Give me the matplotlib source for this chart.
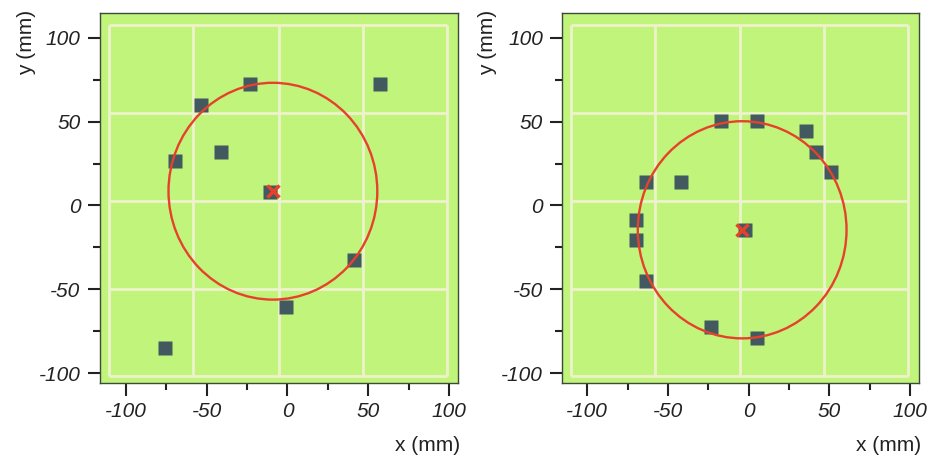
import numpy as np
import matplotlib.pyplot as plt
from matplotlib.patches import Circle
from matplotlib.ticker import MultipleLocator

# measured points (mm), left and right panels
x_left = [-23.3, -53.7, 57.0, -41.4, -69.8, -10.9, 41.4, -1.2, -75.7]
y_left = [72.3, 59.9, 72.3, 32.1, 26.2, 8.0, -32.7, -60.5, -85.1]
center_left = (-9.0, 8.5)
radius_left = 64.6

x_right = [-16.9, 5.2, 35.5, 41.7, 51.2, -63.6, -41.7, -69.8, -69.8, -63.4, -23.1, 5.2, -2.1]
y_right = [50.6, 50.6, 44.4, 32.1, 19.8, 13.9, 13.9, -8.5, -20.4, -44.8, -72.6, -79.0, -14.5]
center_right = (-4.0, -14.5)
radius_right = 64.7

ticks = [-100, -50, 0, 50, 100]

# grid of the underlying plot image (offset from the axis ticks)
grid_x = [-110.3, -58.3, -5.5, 47.0, 98.8]
grid_y = [107.6, 55.0, 2.8, -49.8, -101.8]

green = '#c1f47b'
gridc = '#eef2cc'
markc = '#425a5f'
red = '#e6412c'
framec = '#3d4a3a'

plt.rcParams['font.family'] = ['Liberation Sans', 'DejaVu Sans']
plt.rcParams['axes.unicode_minus'] = False

fig = plt.figure(figsize=(9.45, 4.57), dpi=100)
ax1 = fig.add_axes([0.1058, 0.1619, 0.3788, 0.8097])
ax2 = fig.add_axes([0.5950, 0.1619, 0.3778, 0.8097])

panels = [
    (ax1, x_left, y_left, center_left, radius_left, (-116, 105.5), -0.204),
    (ax2, x_right, y_right, center_right, radius_right, (-115.5, 105.8), -0.208),
]

for ax, xs, ys, c, r, xlim, ylab_x in panels:
    ax.set_facecolor(green)
    ax.vlines(grid_x, grid_y[-1], grid_y[0], color=gridc, lw=2, zorder=1)
    ax.hlines(grid_y, grid_x[0], grid_x[-1], color=gridc, lw=2, zorder=1)
    ax.plot(xs, ys, 's', color=markc, ms=9.5, mec='none', zorder=3)
    ax.add_patch(Circle(c, r, fill=False, ec=red, lw=1.7, zorder=4))
    ax.plot([c[0]], [c[1]], 'x', color=red, ms=9, mew=2.5, zorder=5)

    ax.set_xlim(*xlim)
    ax.set_ylim(-105.8, 114.7)
    ax.set_xticks(ticks)
    ax.set_yticks(ticks)
    ax.xaxis.set_minor_locator(MultipleLocator(25))
    ax.yaxis.set_minor_locator(MultipleLocator(25))
    ax.tick_params(which='major', direction='out', length=9, width=1.5, color='#222222',
                   labelsize=15, pad=5)
    ax.tick_params(which='minor', direction='out', length=5, width=1.5, color='#222222')
    for lab in ax.get_xticklabels() + ax.get_yticklabels():
        lab.set_fontstyle('italic')
        lab.set_color('#222222')
    for s in ax.spines.values():
        s.set_color(framec)
        s.set_linewidth(1.0)

    ax.text(1.006, -0.168, 'x (mm)', transform=ax.transAxes, ha='right', va='center',
            fontsize=15, color='#222222')
    ax.text(ylab_x, 1.008, 'y (mm)', transform=ax.transAxes, ha='center', va='top',
            rotation=90, fontsize=15, color='#222222')

fig.savefig('out.png', dpi=100)
